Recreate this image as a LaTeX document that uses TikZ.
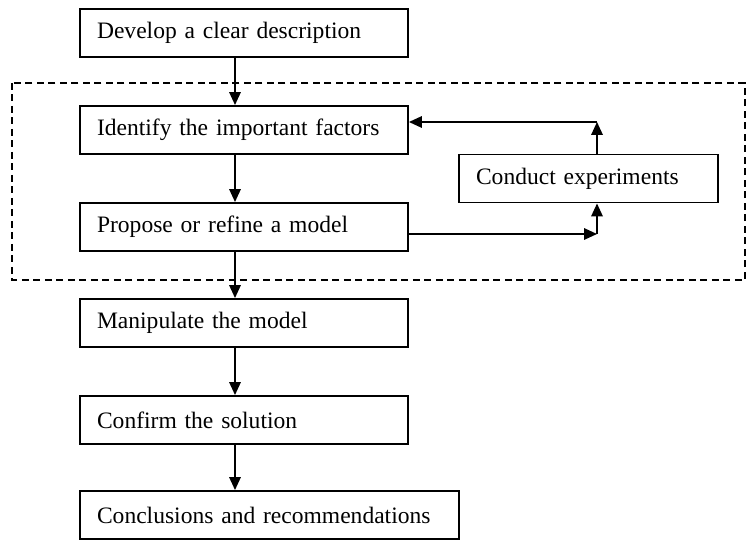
\documentclass[tikz,border=0pt]{standalone}
\usepackage{fontspec}
\setmainfont{Liberation Serif}
\usetikzlibrary{arrows.meta,positioning}

\begin{document}
\begin{tikzpicture}[
    x=0.02cm, y=-0.02cm,
    >={Triangle[length=0.26cm, width=0.23cm]},
    stepbox/.style={rectangle, draw, line width=1.1pt, minimum height=0.96cm,
        inner xsep=0.34cm, text width=5.88cm, align=left,
        font=\fontsize{13.4}{16}\selectfont},
    flow/.style={->, line width=1pt}
]
    \useasboundingbox (0,0) rectangle (746,540);

    % loop region
    \draw[line width=1pt, dash pattern=on 0.14cm off 0.09cm] (12,83) rectangle (745,280);

    \node[stepbox] (DESC) at (244,33) {Develop a clear description};
    \node[stepbox] (FACT) at (244,130) {Identify the important factors};
    \node[stepbox] (MODEL) at (244,227) {Propose or refine a model};
    \node[stepbox] (MANIP) at (244,323) {Manipulate the model};
    \node[stepbox] (CONF) at (244,420) {Confirm the solution};
    \node[stepbox, text width=6.9cm] (CONCL) at (269.5,515) {Conclusions and recommendations};
    \node[stepbox, text width=4.5cm] (EXP) at (588.5,178.5) {Conduct experiments};

    \coordinate (spine) at (235,0);
    \coordinate (up) at (597,122);
    \coordinate (in) at (597,234);

    \draw[flow] (DESC.south -| spine) -- (FACT.north -| spine);
    \draw[flow] (FACT.south -| spine) -- (MODEL.north -| spine);
    \draw[flow] (MODEL.south -| spine) -- (MANIP.north -| spine);
    \draw[flow] (MANIP.south -| spine) -- (CONF.north -| spine);
    \draw[flow] (CONF.south -| spine) -- (CONCL.north -| spine);

    \draw[flow] (MODEL.east |- in) -- (in);
    \draw[flow] (in) -- (EXP.south -| in);
    \draw[flow] (EXP.north -| up) -- (up);
    \draw[flow] (up) -- (FACT.east |- up);
\end{tikzpicture}
\end{document}
